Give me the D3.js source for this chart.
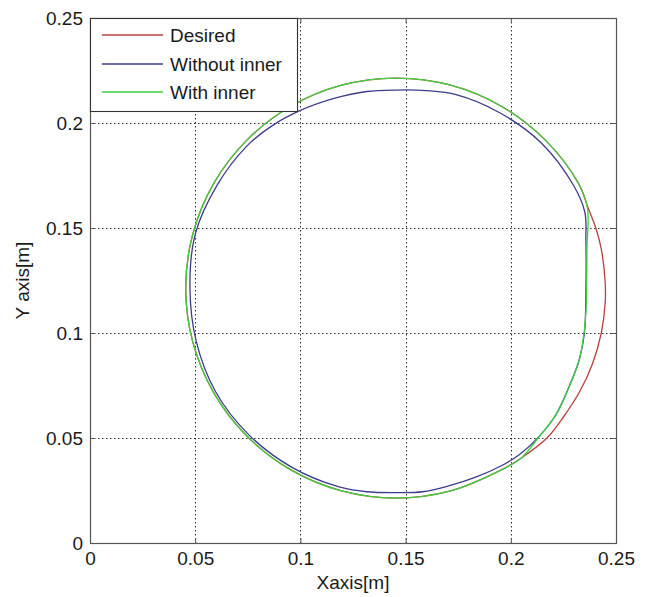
<!DOCTYPE html>
<html>
<head>
<meta charset="utf-8">
<script src="https://cdn.jsdelivr.net/npm/d3@7"></script>
<style>
  html, body { margin: 0; padding: 0; background: #fff; }
  svg { display: block; }
  text { font-family: "Liberation Sans", Arial, sans-serif; fill: #1a1a1a; }
</style>
</head>
<body>
<svg id="chart" width="647" height="597"></svg>
<script>
// Tick values shared by both axes [m]
const tickValues = [0, 0.05, 0.1, 0.15, 0.2, 0.25];

// Reference trajectory (x, y) in metres
const desiredPath = [
  [0.2448, 0.1250], [0.2430, 0.1400], [0.2404, 0.1500], [0.2366, 0.1600],
  [0.2321, 0.1714], [0.2162, 0.1921], [0.1955, 0.2080], [0.1714, 0.2180],
  [0.1455, 0.2214], [0.1196, 0.2180], [0.0955, 0.2080], [0.0748, 0.1921],
  [0.0589, 0.1714], [0.0489, 0.1473], [0.0455, 0.1214], [0.0489, 0.0955],
  [0.0589, 0.0714], [0.0748, 0.0507], [0.0955, 0.0348], [0.1196, 0.0248],
  [0.1455, 0.0214], [0.1714, 0.0248], [0.1955, 0.0348], [0.2050, 0.0405],
  [0.2172, 0.0500], [0.2250, 0.0600], [0.2327, 0.0720], [0.2387, 0.0850],
  [0.2430, 0.1000], [0.2449, 0.1150]
];

// Tracked trajectory without the inner loop
const withoutInnerPath = [
  [0.2357, 0.1200], [0.2357, 0.1449], [0.2352, 0.1575], [0.2300, 0.1700],
  [0.2145, 0.1905], [0.1945, 0.2050], [0.1740, 0.2135], [0.1600, 0.2154],
  [0.1455, 0.2157], [0.1315, 0.2150], [0.1160, 0.2117], [0.1000, 0.2060],
  [0.0870, 0.1990], [0.0745, 0.1890], [0.0605, 0.1705], [0.0500, 0.1470],
  [0.0475, 0.1214], [0.0505, 0.0960], [0.0597, 0.0720], [0.0755, 0.0515],
  [0.0960, 0.0360], [0.1180, 0.0268], [0.1315, 0.0244], [0.1455, 0.0240],
  [0.1580, 0.0244], [0.1705, 0.0272], [0.1830, 0.0312], [0.1955, 0.0368],
  [0.2040, 0.0420], [0.2135, 0.0508], [0.2215, 0.0612], [0.2280, 0.0752],
  [0.2325, 0.0872], [0.2350, 0.1000]
];

// Tracked trajectory with the inner loop
const withInnerPath = [
  [0.2360, 0.1200], [0.2362, 0.1400], [0.2364, 0.1597], [0.2321, 0.1714],
  [0.2162, 0.1921], [0.1955, 0.2080], [0.1714, 0.2180], [0.1455, 0.2214],
  [0.1196, 0.2180], [0.0955, 0.2080], [0.0748, 0.1921], [0.0589, 0.1714],
  [0.0489, 0.1473], [0.0455, 0.1214], [0.0489, 0.0955], [0.0589, 0.0714],
  [0.0748, 0.0507], [0.0955, 0.0348], [0.1196, 0.0248], [0.1455, 0.0214],
  [0.1714, 0.0248], [0.1955, 0.0348], [0.2050, 0.0405], [0.2130, 0.0500],
  [0.2215, 0.0610], [0.2280, 0.0750], [0.2325, 0.0870], [0.2348, 0.1000],
  [0.2357, 0.1100]
];

const seriesNames = ["Desired", "Without inner", "With inner"];
const seriesColors = ["#b8403c", "#3c3c8e", "#3ecf3e"];
const seriesData = [desiredPath, withoutInnerPath, withInnerPath];

const svg = d3.select("#chart");
const plotLeft = 90, plotRight = 616, plotTop = 18, plotBottom = 543;

const x = d3.scaleLinear().domain([0, 0.25]).range([plotLeft, plotRight]);
const y = d3.scaleLinear().domain([0, 0.25]).range([plotBottom, plotTop]);
const fmt = d => String(+d.toFixed(2));

// Plot background
svg.append("rect")
  .attr("x", plotLeft).attr("y", plotTop)
  .attr("width", plotRight - plotLeft).attr("height", plotBottom - plotTop)
  .attr("fill", "#fff");

// Dotted grid
const inner = tickValues.filter(v => v > 0 && v < 0.25);
const grid = svg.append("g")
  .attr("stroke", "#2a2a2a").attr("stroke-width", 1)
  .attr("stroke-dasharray", "1.5,2.5");
grid.selectAll("line.gx").data(inner).join("line").attr("class", "gx")
  .attr("x1", d => Math.round(x(d)) + 0.5).attr("x2", d => Math.round(x(d)) + 0.5)
  .attr("y1", plotTop).attr("y2", plotBottom);
grid.selectAll("line.gy").data(inner).join("line").attr("class", "gy")
  .attr("y1", d => Math.round(y(d)) + 0.5).attr("y2", d => Math.round(y(d)) + 0.5)
  .attr("x1", plotLeft).attr("x2", plotRight);

// Trajectories (desired first, tracked paths drawn over it)
const line = d3.line()
  .x(d => x(d[0])).y(d => y(d[1]))
  .curve(d3.curveCatmullRomClosed.alpha(0.5));
svg.append("g").selectAll("path").data(seriesData).join("path")
  .attr("d", line)
  .attr("fill", "none")
  .attr("stroke", (d, i) => seriesColors[i])
  .attr("stroke-width", 1.3);

// Axes with inward ticks on all four sides
function styleAxis(g) {
  g.select(".domain").remove();
  g.selectAll(".tick line").attr("stroke", "#555");
  g.selectAll(".tick text").attr("font-size", 19)
    .attr("font-family", "Liberation Sans, Arial, sans-serif").attr("fill", "#1a1a1a");
}
svg.append("g").attr("transform", `translate(0,${plotBottom})`)
  .call(d3.axisBottom(x).tickValues(tickValues).tickFormat(fmt).tickSize(-5).tickPadding(9))
  .call(styleAxis);
svg.append("g").attr("transform", `translate(0,${plotTop})`)
  .call(d3.axisTop(x).tickValues(tickValues).tickFormat("").tickSize(-5))
  .call(styleAxis);
svg.append("g").attr("transform", `translate(${plotLeft},0)`)
  .call(d3.axisLeft(y).tickValues(tickValues).tickFormat(fmt).tickSize(-5).tickPadding(7))
  .call(styleAxis);
svg.append("g").attr("transform", `translate(${plotRight},0)`)
  .call(d3.axisRight(y).tickValues(tickValues).tickFormat("").tickSize(-5))
  .call(styleAxis);

// Frame
svg.append("rect")
  .attr("x", plotLeft + 0.5).attr("y", plotTop + 0.5)
  .attr("width", plotRight - plotLeft).attr("height", plotBottom - plotTop)
  .attr("fill", "none").attr("stroke", "#555").attr("stroke-width", 1.2);

// Axis titles
svg.append("text")
  .attr("x", (plotLeft + plotRight) / 2).attr("y", 589)
  .attr("text-anchor", "middle").attr("font-size", 19)
  .text("Xaxis[m]");
svg.append("text")
  .attr("transform", `translate(29,${(plotTop + plotBottom) / 2}) rotate(-90)`)
  .attr("text-anchor", "middle").attr("font-size", 19)
  .text("Y axis[m]");

// Legend
const legend = svg.append("g");
legend.append("rect")
  .attr("x", plotLeft + 0.5).attr("y", plotTop + 0.5)
  .attr("width", 207).attr("height", 93)
  .attr("fill", "#fff").attr("stroke", "#333").attr("stroke-width", 1.1);
const rowY = [35, 64, 92];
seriesNames.forEach((name, i) => {
  legend.append("line")
    .attr("x1", 102).attr("x2", 163)
    .attr("y1", rowY[i]).attr("y2", rowY[i])
    .attr("stroke", seriesColors[i]).attr("stroke-width", 1.3);
  legend.append("text")
    .attr("x", 170).attr("y", rowY[i]).attr("dy", "0.35em")
    .attr("font-size", 19).text(name);
});
</script>
</body>
</html>
